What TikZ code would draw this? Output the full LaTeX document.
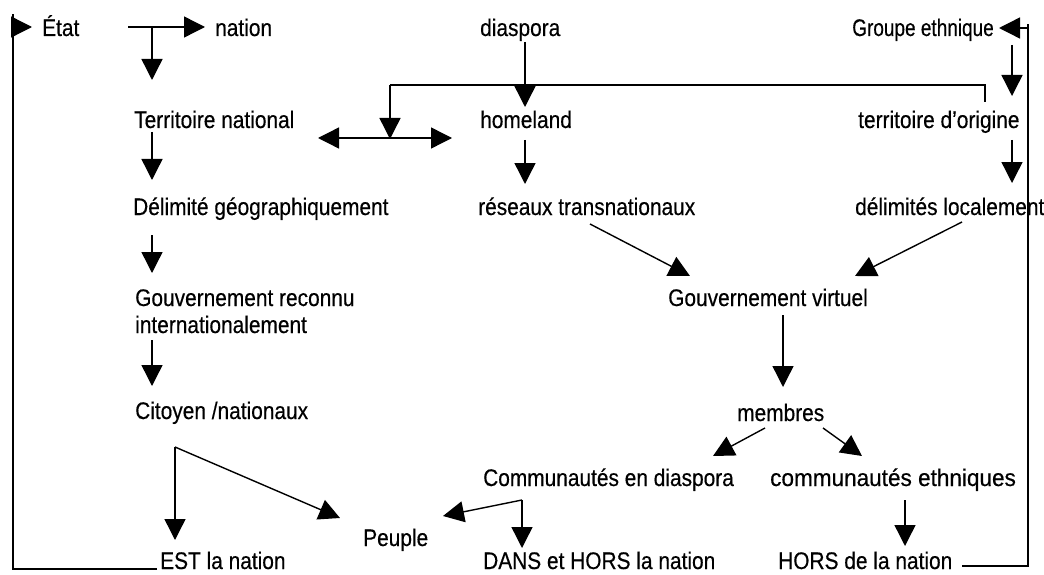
\documentclass[tikz,border=0pt]{standalone}
\usepackage{fontspec}
\setmainfont{Liberation Sans}[FakeStretch=0.87,FakeBold=0.4]
\usetikzlibrary{arrows.meta}
\begin{document}
\begin{tikzpicture}[x=1pt,y=-1pt,
  lbl/.style={anchor=base west, inner sep=0pt, font=\fontsize{24}{27}\selectfont},
  arr/.style={-{Triangle[length=21pt,width=21pt]}, line width=1.4pt},
  dbl/.style={{Triangle[length=21pt,width=21pt]}-{Triangle[length=21pt,width=21pt]}, line width=1.4pt},
  ln/.style={line width=1.4pt}]
\useasboundingbox (0,0) rectangle (1044,575);
\fill[white] (0,0) rectangle (1044,575);

% texts
\node[lbl] (etat) at (42,36) {État};
\node[lbl] (nation) at (215,36) {nation};
\node[lbl] (diaspora) at (480,36) {diaspora};
\node[lbl, anchor=base east] (groupe) at (994,36) {\scalebox{0.91}[1]{Groupe ethnique}};
\node[lbl] (terr) at (134,128) {Territoire national};
\node[lbl] (home) at (480,128) {homeland};
\node[lbl] (terro) at (858,128) {territoire d'origine};
\node[lbl] (delim) at (133,215) {Délimité géographiquement};
\node[lbl] (reseaux) at (478,215) {réseaux transnationaux};
\node[lbl] (delimloc) at (855,215) {délimités localement};
\node[lbl] (gouvr) at (135,306) {Gouvernement reconnu};
\node[lbl] (gouvr2) at (135,333) {internationalement};
\node[lbl] (gouvv) at (668,306) {Gouvernement virtuel};
\node[lbl] (citoyen) at (135,419) {Citoyen /nationaux};
\node[lbl] (membres) at (737,421) {membres};
\node[lbl] (commd) at (483,486) {Communautés en diaspora};
\node[lbl] (comme) at (770,486) {\scalebox{1.08}[1]{communautés ethniques}};
\node[lbl] (peuple) at (363,546) {Peuple};
\node[lbl] (est) at (160,569) {EST la nation};
\node[lbl] (dans) at (483,569) {DANS et HORS la nation};
\node[lbl] (hors) at (778,569) {HORS de la nation};

% junction coordinates
\coordinate (jEtat) at (152,27);
\coordinate (jCit) at (175,447);
\coordinate (jComm) at (522,500);
\coordinate (jBrR) at (985,85);
\coordinate (jBrL) at (390,85);
\coordinate (loopBL) at (13,569);
\coordinate (loopTL) at (13,27);
\coordinate (loopBR) at (1028,566);
\coordinate (loopTR) at (1028,28);

% left column
\draw[arr] (128,27) -- (205,27);
\draw[arr] (jEtat) -- (152,80);
\draw[arr] (152,132) -- (152,180);
\draw[arr] (152,235) -- (152,273);
\draw[arr] (152,340) -- (152,386);
\draw[arr] (jCit) -- (175,540);
\draw[arr] (jCit) -- (340,518);

% left loop
\draw[ln] (157,569) -- (loopBL) -- (13,14);
\draw[arr] (loopTL) -- (32,27);

% middle column
\draw[arr] (525,42) -- (525,107);
\draw[ln] (985,102) -- (jBrR) -- (jBrL);
\draw[arr] (jBrL) -- (390,139);
\draw[dbl] (318,138) -- (452,138);
\draw[arr] (525,140) -- (525,184);

% right column
\draw[arr] (1012,45) -- (1012,96);
\draw[arr] (1012,140) -- (1012,183);

% convergence on virtual government
\draw[arr] (590,224) -- (690,276);
\draw[arr] (962,222) -- (855,276);
\draw[arr] (783,315) -- (783,387);
\draw[arr] (765,428) -- (713,456);
\draw[arr] (823,428) -- (862,456);
\draw[arr] (905,500) -- (905,546);
\draw[arr] (jComm) -- (443,516);
\draw[arr] (jComm) -- (522,548);

% right loop
\draw[ln] (962,566) -- (loopBR) -- (1028,24);
\draw[arr] (loopTR) -- (999,28);
\end{tikzpicture}
\end{document}
